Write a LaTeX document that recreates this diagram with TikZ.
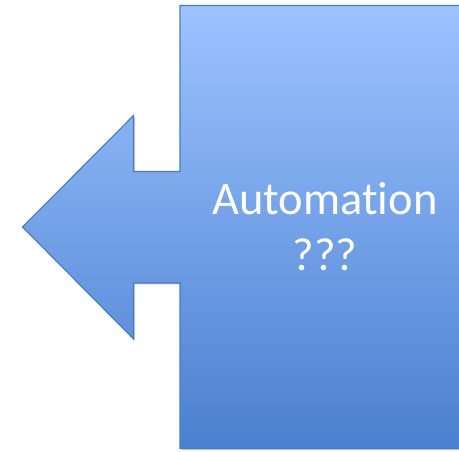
\documentclass[tikz,border=0pt]{standalone}
\usepackage{fontspec}
\setmainfont[Ligatures=NoCommon]{Carlito}
\usetikzlibrary{shadows}
\definecolor{topblue}{HTML}{9DC3FF}
\definecolor{botblue}{HTML}{4A80D0}
\definecolor{edgeblue}{HTML}{4A7EBB}
\tikzset{
  callout/.style={draw=edgeblue, line width=1.1pt, top color=topblue, bottom color=botblue,
    drop shadow={shadow xshift=1.5pt, shadow yshift=-1.5pt, opacity=0.35, fill=black!60}},
  label/.style={text=white, font=\fontsize{46.5}{56}\selectfont, align=center}
}
\begin{document}
\begin{tikzpicture}[x=1pt,y=-1pt]
\useasboundingbox (0,0) rectangle (459,452);
\path[callout] (180,5.5) -- (470,5.5) -- (470,448.5) -- (180,448.5) -- (180,283)
  -- (133.5,283) -- (133.5,339) -- (22.5,227) -- (133.5,115.5) -- (133.5,171.5)
  -- (180,171.5) -- cycle;
\node[label, anchor=base] (t) at (325,271) {Automation\\???};
\end{tikzpicture}
\end{document}
